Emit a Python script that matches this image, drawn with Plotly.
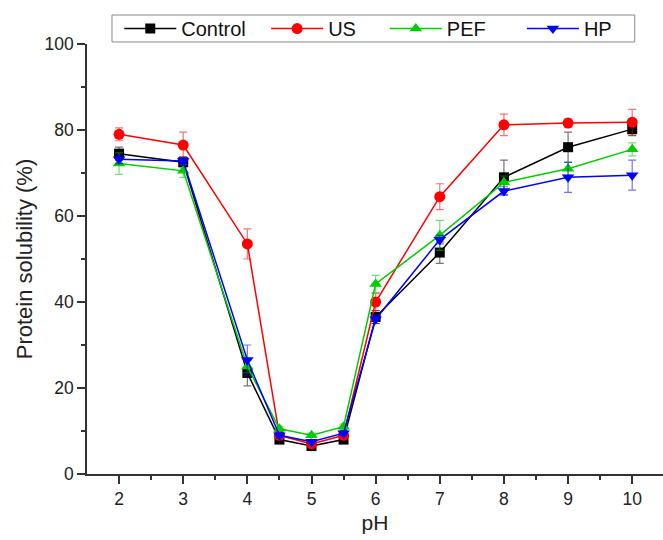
import plotly.graph_objects as go

ph = [2, 3, 4, 4.5, 5, 5.5, 6, 7, 8, 9, 10]

control = [74.5, 72.5, 23.5, 8.0, 6.5, 8.0, 36.5, 51.5, 69.0, 76.0, 80.2]
control_err = [1.5, 1.0, 3.0, 0.6, 0.5, 0.6, 1.5, 2.5, 4.0, 3.5, 1.5]

us = [79.0, 76.5, 53.5, 9.0, 7.0, 9.0, 40.0, 64.5, 81.2, 81.6, 81.8]
us_err = [1.5, 3.0, 3.5, 0.6, 0.5, 0.6, 2.0, 3.0, 2.5, 1.0, 3.0]

pef = [72.2, 70.5, 25.0, 10.5, 9.0, 11.0, 44.2, 55.5, 67.8, 71.0, 75.5]
pef_err = [2.5, 1.5, 1.5, 0.6, 0.5, 0.6, 2.0, 3.5, 1.5, 1.5, 1.5]

hp = [73.2, 72.8, 26.5, 9.0, 7.5, 9.5, 36.0, 54.5, 65.8, 69.0, 69.5]
hp_err = [1.0, 1.0, 3.5, 0.6, 0.5, 0.6, 1.0, 1.0, 1.0, 3.5, 3.5]

# name, values, errors, colour, error-bar colour, marker symbol, marker size,
# legend slot and its horizontal position (paper coordinates)
series = [
    ("Control", control, control_err, "#000000", "rgba(0,0,0,0.55)", "square", 10, "legend", 0.056),
    ("US", us, us_err, "#FF0000", "rgba(255,0,0,0.55)", "circle", 11, "legend2", 0.311),
    ("PEF", pef, pef_err, "#00CC00", "rgba(0,200,0,0.55)", "triangle-up", 11, "legend3", 0.517),
    ("HP", hp, hp_err, "#0000FF", "rgba(0,0,255,0.55)", "triangle-down", 11, "legend4", 0.755),
]

font_family = "Liberation Sans, Arial, sans-serif"
axis_color = "#333333"

fig = go.Figure()
legend_layouts = {}
for name, vals, err, color, ecolor, symbol, msize, leg, lx in series:
    fig.add_trace(go.Scatter(
        x=ph, y=vals, name=name, mode="lines+markers", legend=leg,
        line=dict(color=color, width=1.5),
        marker=dict(color=color, symbol=symbol, size=msize),
        error_y=dict(type="data", array=err, visible=True,
                     color=ecolor, thickness=1.2, width=4),
    ))
    legend_layouts[leg] = dict(
        orientation="h", x=lx, y=1.036, xanchor="left", yanchor="middle",
        bgcolor="rgba(0,0,0,0)", borderwidth=0,
        font=dict(size=20, color="#111111"),
        itemwidth=52,
    )

fig.update_layout(
    width=663, height=540,
    margin=dict(l=87, r=0, t=44, b=66),
    plot_bgcolor="white", paper_bgcolor="white",
    font=dict(family=font_family, color="#222222"),
    showlegend=True,
    **legend_layouts,
    shapes=[dict(
        type="rect", xref="paper", yref="paper",
        x0=0.0434, x1=0.951, y0=1.0047, y1=1.0674,
        line=dict(color="#888888", width=1), fillcolor="rgba(0,0,0,0)",
    )],
    xaxis=dict(
        title=dict(text="pH", font=dict(size=21), standoff=8),
        range=[1.5, 10.48], tickvals=[2, 3, 4, 5, 6, 7, 8, 9, 10],
        showgrid=False, zeroline=False,
        showline=True, linecolor=axis_color, linewidth=1.5,
        ticks="outside", ticklen=8, tickwidth=1.5, tickcolor=axis_color,
        tickfont=dict(size=17.5),
        minor=dict(tickvals=[2.5, 3.5, 4.5, 5.5, 6.5, 7.5, 8.5, 9.5, 10.5],
                   ticks="outside", ticklen=4, tickwidth=1.5, tickcolor=axis_color),
    ),
    yaxis=dict(
        title=dict(text="Protein solubility (%)", font=dict(size=22), standoff=6),
        range=[0, 100], tickvals=[0, 20, 40, 60, 80, 100],
        showgrid=False, zeroline=False,
        showline=True, linecolor=axis_color, linewidth=1.5,
        ticks="outside", ticklen=8, tickwidth=1.5, tickcolor=axis_color,
        tickfont=dict(size=17.5),
        minor=dict(tickvals=[10, 30, 50, 70, 90],
                   ticks="outside", ticklen=4, tickwidth=1.5, tickcolor=axis_color),
    ),
)

fig.write_html("out.html")
